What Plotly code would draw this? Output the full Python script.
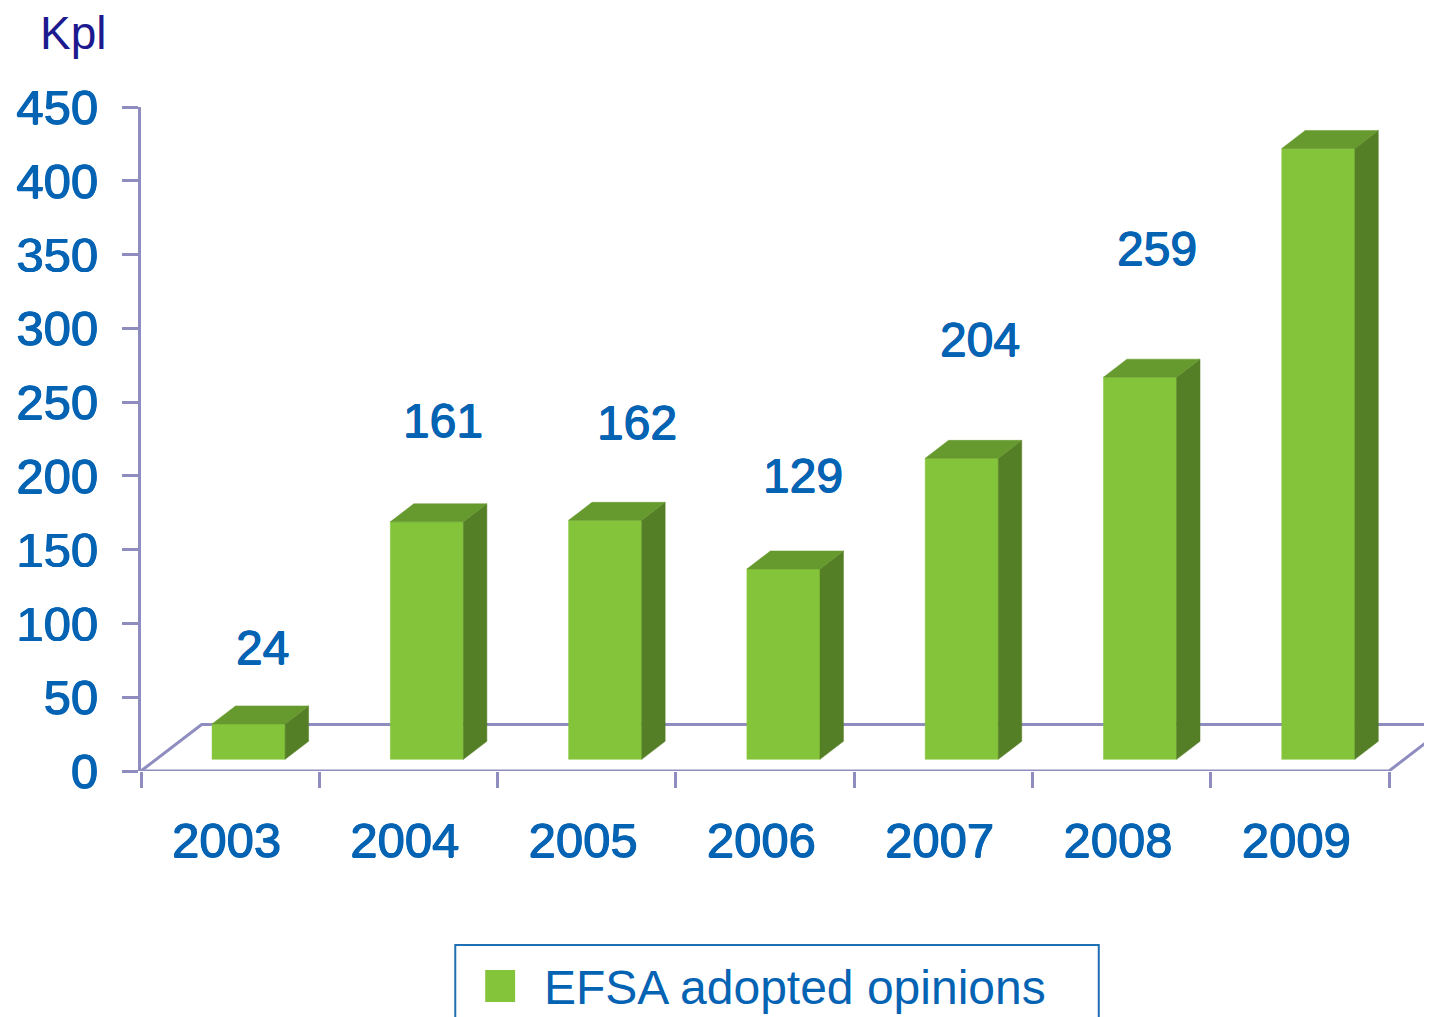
import plotly.graph_objects as go

# data
years = ["2003", "2004", "2005", "2006", "2007", "2008", "2009"]
opinions = [24, 161, 162, 129, 204, 259, 414]
y_ticks = [0, 50, 100, 150, 200, 250, 300, 350, 400, 450]
series_name = "EFSA adopted opinions"

# where the value labels float (value units above bar top, pixel nudge right)
label_lift = [59, 76, 74, 71, 88, 95, 56]
label_nudge = [14, 16, 32, 20, 18, 17, 24]

# colours
FRONT = "#84c43b"
SIDE = "#557f26"
TOP = "#66992e"
AXIS = "#8f8dc0"
BLUE = "#0563b3"
NAVY = "#1c1a8e"
FONT = "Liberation Sans, Arial"
# the original digits are a touch heavier than plain Arial
HEAVY = "0.6px 0 0 {c}, -0.6px 0 0 {c}, 0 0.6px 0 {c}".format(c=BLUE)

# fake 3d geometry (x in category units, y in value units)
FLOOR_DX, FLOOR_DY = 0.34, 31.5
BAR_W, BAR_SHIFT, BAR_BASE = 0.41, 0.1035, 7.9
BAR_DX, BAR_DY = 0.1315, 12.2

# the page puts the figure 8px in from the corner, so work in screen pixels
OFF = 8
W, H = 1432, 1017
PL, PR, PT, PB = 138, 1432, 107, 771   # plot area on screen
X_MAX = (PR - PL) / 178.7


def px(x, y):
    # screen pixel -> paper coordinates of the plot area
    return (x - PL) / (PR - PL), (PB - y) / (PB - PT)


def polys(corners):
    xs, ys = [], []
    for c in corners:
        for (a, b) in c + [c[0]]:
            xs.append(a)
            ys.append(b)
        xs.append(None)
        ys.append(None)
    return xs, ys


front, side, top = [], [], []
for i, v in enumerate(opinions):
    xl = i + 0.5 + BAR_SHIFT - BAR_W / 2
    xr = xl + BAR_W
    b0, b1 = BAR_BASE, BAR_BASE + v
    front.append([(xl, b0), (xr, b0), (xr, b1), (xl, b1)])
    side.append([(xr, b0), (xr + BAR_DX, b0 + BAR_DY), (xr + BAR_DX, b1 + BAR_DY), (xr, b1)])
    top.append([(xl, b1), (xr, b1), (xr + BAR_DX, b1 + BAR_DY), (xl + BAR_DX, b1 + BAR_DY)])

fig = go.Figure()

n = len(years)
# floor outline
fig.add_trace(go.Scatter(
    x=[0, FLOOR_DX, n + FLOOR_DX + 0.5],
    y=[0, FLOOR_DY, FLOOR_DY],
    mode="lines", line=dict(color=AXIS, width=3), cliponaxis=False,
    hoverinfo="skip", showlegend=False))
fig.add_trace(go.Scatter(
    x=[0, n, n + FLOOR_DX],
    y=[0, 0, FLOOR_DY],
    mode="lines", line=dict(color=AXIS, width=3), cliponaxis=False,
    hoverinfo="skip", showlegend=False))

for faces, col in [(front, FRONT), (side, SIDE), (top, TOP)]:
    xs, ys = polys(faces)
    fig.add_trace(go.Scatter(
        x=xs, y=ys, mode="lines", fill="toself", fillcolor=col,
        line=dict(color=col, width=0.5), hoverinfo="skip", showlegend=False))

for i, v in enumerate(opinions):
    fig.add_annotation(
        x=i + 0.5 + BAR_SHIFT, y=BAR_BASE + v + label_lift[i], text=str(v),
        showarrow=False, xshift=label_nudge[i], yshift=-11,
        font=dict(size=48, color=BLUE, family=FONT, shadow=HEAVY))

fig.add_annotation(
    x=px(35, 0)[0], y=px(0, 33)[1], xref="paper", yref="paper", text="Kpl",
    xanchor="left", yanchor="middle", showarrow=False,
    font=dict(size=46, color=NAVY, family=FONT))

# legend drawn by hand so the swatch can be as big as the original
bx0, by0 = px(453, 945)
bx1, by1 = px(1098, 1060)
fig.add_shape(type="rect", xref="paper", yref="paper", x0=bx0, x1=bx1, y0=by1, y1=by0,
              line=dict(color="#1f6fb5", width=2), fillcolor="white")
sx0, sy0 = px(483, 970)
sx1, sy1 = px(513, 1002)
fig.add_shape(type="rect", xref="paper", yref="paper", x0=sx0, x1=sx1, y0=sy1, y1=sy0,
              line=dict(width=0), fillcolor=FRONT)
fig.add_annotation(
    x=px(540, 0)[0], y=px(0, 987)[1], xref="paper", yref="paper", text=series_name,
    xanchor="left", yanchor="middle", showarrow=False,
    font=dict(size=48, color=BLUE, family=FONT))

fig.update_xaxes(
    range=[0, X_MAX], tickvals=[i + 0.48 for i in range(n)], ticktext=years,
    ticks="", showgrid=False, zeroline=False, showline=False,
    tickfont=dict(size=49, color=BLUE, family=FONT, shadow=HEAVY),
    ticklabelstandoff=36,
    minor=dict(tickvals=list(range(n + 1)), ticks="outside", ticklen=16,
               tickwidth=3, tickcolor=AXIS, showgrid=False))
fig.update_yaxes(
    range=[0, 450], tickvals=y_ticks, ticks="outside", ticklen=16, tickwidth=3,
    tickcolor=AXIS, showline=True, linecolor=AXIS, linewidth=3,
    showgrid=False, zeroline=False, ticklabelstandoff=14,
    tickfont=dict(size=49, color=BLUE, family=FONT, shadow=HEAVY))

fig.update_layout(
    width=W, height=H,
    margin=dict(l=PL - OFF, r=W - (PR - OFF), t=PT - OFF, b=H - (PB - OFF)),
    paper_bgcolor="white", plot_bgcolor="white", showlegend=False)

fig.write_html("out.html")
